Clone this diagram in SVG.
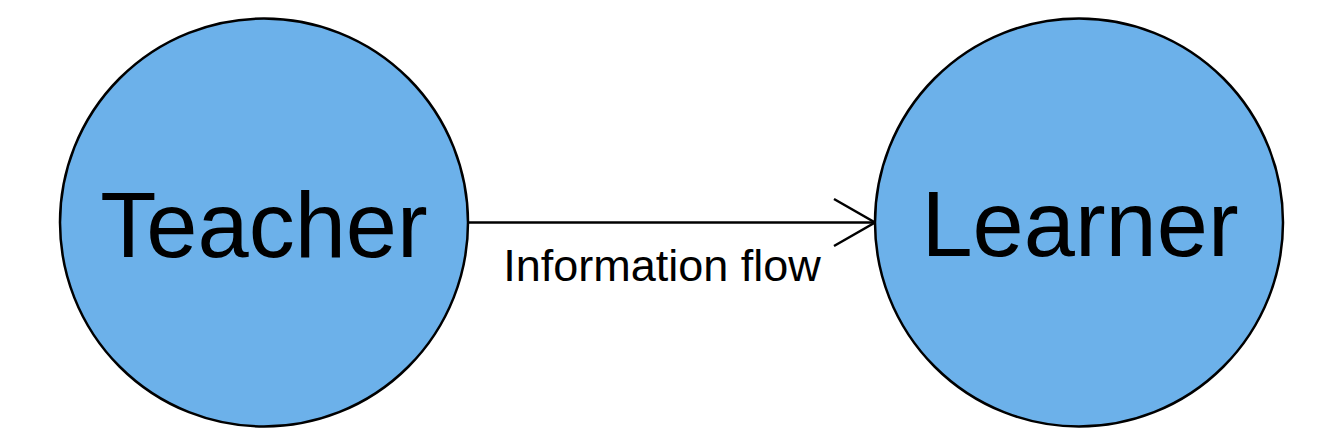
<svg xmlns="http://www.w3.org/2000/svg" width="1344" height="447" viewBox="0 0 1344 447">
<style>
.node{fill:#6cb1ea;stroke:#000;stroke-width:2.5}
.big{font-family:"Liberation Sans",Arial,sans-serif;font-size:92px;fill:#000;text-anchor:middle}
.lbl{font-family:"Liberation Sans",Arial,sans-serif;font-size:45px;fill:#000;text-anchor:middle}
.edge{fill:none;stroke:#000;stroke-width:2.5}
</style>
<rect width="1344" height="447" fill="#fff"/>
<g id="connectors">
<line class="edge" x1="469" y1="222.5" x2="873" y2="222.5"/>
<polyline class="edge" points="834,199 875,222.5 834,246"/>
<text class="lbl" x="662" y="281">Information flow</text>
</g>
<g id="teacher">
<circle class="node" cx="264" cy="222.5" r="204"/>
<text class="big" x="264" y="257">Teacher</text>
</g>
<g id="learner">
<circle class="node" cx="1079" cy="222.5" r="204"/>
<text class="big" x="1080" y="256">Learner</text>
</g>
</svg>
